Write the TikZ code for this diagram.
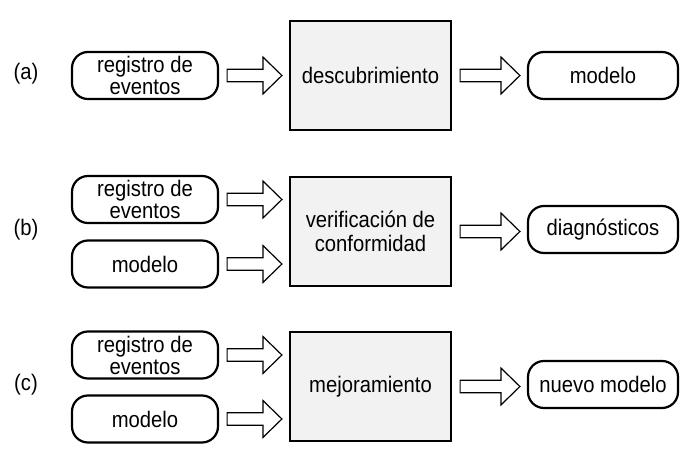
\documentclass[tikz,border=0pt]{standalone}
\usepackage{fontspec}
\setmainfont{Liberation Sans}[FakeStretch=0.9]
\usetikzlibrary{calc}
\definecolor{procfill}{HTML}{F2F2F2}
\tikzset{
  inbox/.style={draw=black, line width=2.2pt, rounded corners=16pt, minimum width=146pt, minimum height=47pt, inner sep=0pt, align=center, font=\fontsize{22.5}{22}\selectfont},
  outbox/.style={inbox, minimum width=150pt},
  procbox/.style={draw=black, line width=2.2pt, fill=procfill, minimum width=161pt, minimum height=109pt, inner sep=0pt, align=center, font=\fontsize{22.5}{24}\selectfont},
  rowlabel/.style={font=\fontsize{22.5}{22}\selectfont, inner sep=0pt},
  barrow/.style={draw=black, line width=1.2pt, fill=white, line join=miter}
}
\newcommand\blockarrow[2]{%
  \draw[barrow] let \p1=($(#1.east)+(8pt,0)$), \p2=($(#2.west)+(-7pt,0)$) in
    (\x1,\y1+6.3pt) -- (\x2-19pt,\y1+6.3pt) -- (\x2-19pt,\y1+18.5pt) -- (\x2,\y1)
    -- (\x2-19pt,\y1-18.5pt) -- (\x2-19pt,\y1-6.3pt) -- (\x1,\y1-6.3pt) -- cycle;}
\begin{document}
\begin{tikzpicture}[x=1pt,y=-1pt]
\useasboundingbox (0,0) rectangle (689,458);
% row (a)
\node[rowlabel] (la) at (26,74) {(a)};
\node[inbox] (ia) at (145,75.5) {registro de\\eventos};
\node[procbox] (pa) at (370.5,75.5) {descubrimiento};
\node[outbox] (oa) at (603,75.5) {modelo};
\blockarrow{ia}{pa}
\blockarrow{pa}{oa}
% row (b)
\node[rowlabel] (lb) at (26,230) {(b)};
\node[inbox] (ib1) at (145,199.5) {registro de\\eventos};
\node[inbox] (ib2) at (145,264) {modelo};
\node[procbox] (pb) at (370.5,231.5) {verificación de\\conformidad};
\node[outbox] (ob) at (603,229.5) {diagnósticos};
\blockarrow{ib1}{pb}
\blockarrow{ib2}{pb}
\blockarrow{pb}{ob}
% row (c)
\node[rowlabel] (lc) at (26,385) {(c)};
\node[inbox] (ic1) at (145,355) {registro de\\eventos};
\node[inbox] (ic2) at (145,419) {modelo};
\node[procbox] (pc) at (370.5,386.5) {mejoramiento};
\node[outbox] (oc) at (603,384.5) {nuevo modelo};
\blockarrow{ic1}{pc}
\blockarrow{ic2}{pc}
\blockarrow{pc}{oc}
\end{tikzpicture}
\end{document}
